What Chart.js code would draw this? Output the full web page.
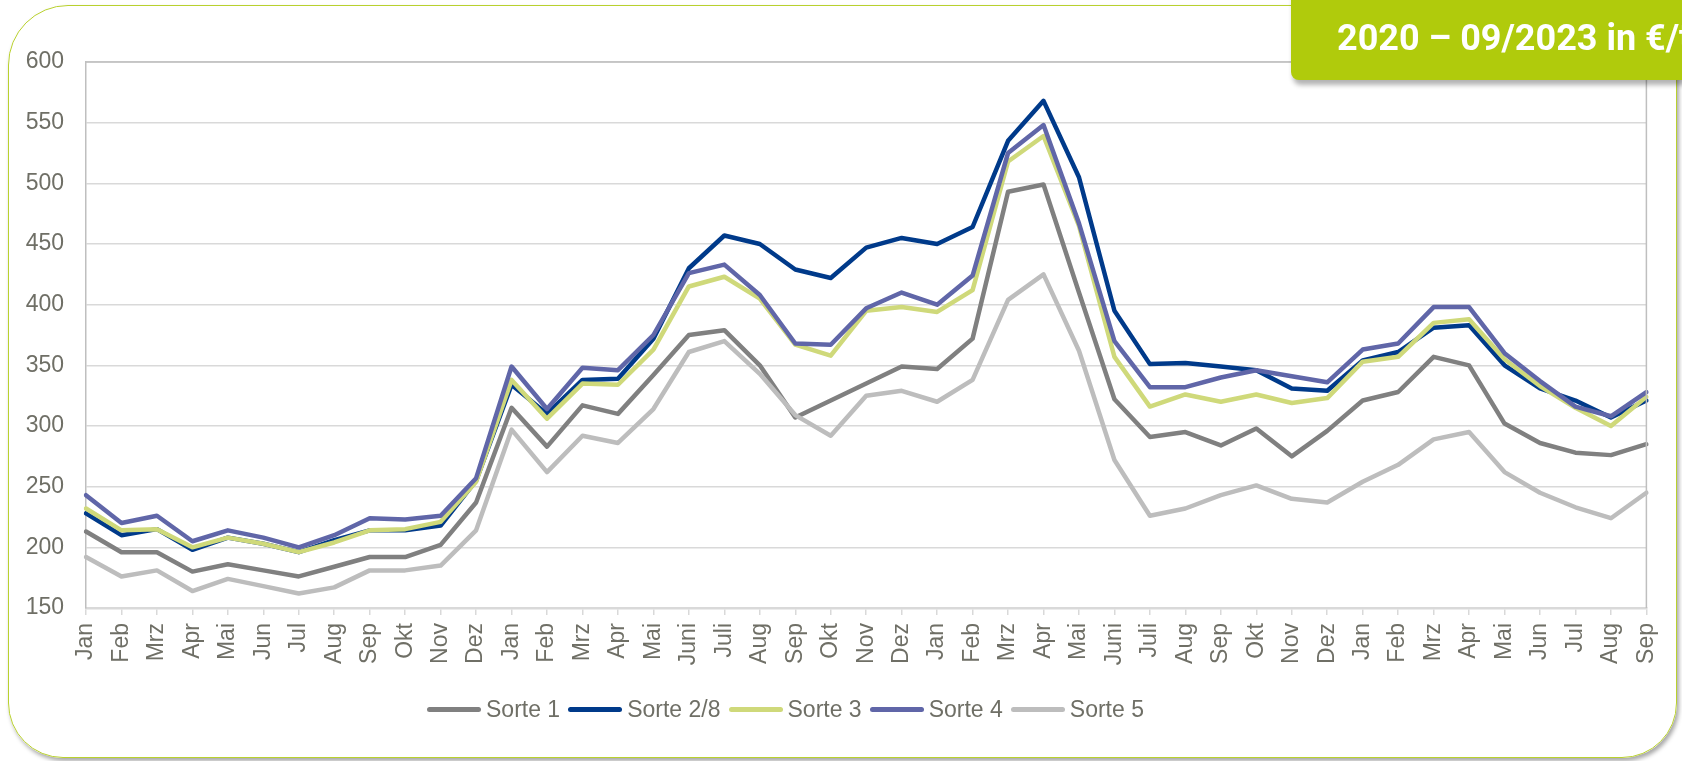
<!DOCTYPE html>
<html lang="de">
<head>
<meta charset="utf-8">
<title>Sorten 2020 – 09/2023</title>
<script src="https://cdn.jsdelivr.net/npm/chart.js@4.4.1/dist/chart.umd.min.js"></script>
<style>
  html, body { margin: 0; padding: 0; background: #fff; }
  body { width: 1682px; height: 761px; position: relative; overflow: hidden; font-family: "Liberation Sans", Arial, sans-serif; }
  #rahmen {
    position: absolute; left: 8px; top: 5px; width: 1669px; height: 753px;
    box-sizing: border-box; border: 1.5px solid #B9D12E;
    border-radius: 60px 60px 55px 55px;
    box-shadow: 2px 3px 4px rgba(0,0,0,0.35);
  }
  #grafik { position: absolute; left: 0; top: 0; }
  #titel {
    position: absolute; left: 1291px; top: -10px; width: 420px; height: 90px;
    background: #B0CB0C; border-radius: 0 0 0 8px;
    box-shadow: 2px 5px 5px rgba(0,0,0,0.3);
  }
  #titel span {
    position: absolute; left: 46px; top: 30px; white-space: nowrap;
    font-family: Roboto, "Liberation Sans", sans-serif; font-weight: bold;
    font-size: 36px; line-height: 36px; color: #fff;
  }
  #legende {
    position: absolute; left: 427px; top: 696px; display: flex; align-items: center;
    font-size: 23px; color: #6F6F66; white-space: nowrap;
  }
  #legende .strich { width: 54px; height: 5px; border-radius: 3px; margin-right: 5px; }
  #legende .text { margin-right: 8px; }
</style>
</head>
<body>
<div id="rahmen"></div>
<canvas id="grafik" width="1682" height="761"></canvas>
<div id="legende"></div>
<div id="titel"><span>2020 – 09/2023 in €/t</span></div>

<script>
// Monate 01/2020 bis 09/2023
const monate = [
  'Jan', 'Feb', 'Mrz', 'Apr', 'Mai', 'Jun', 'Jul', 'Aug', 'Sep', 'Okt', 'Nov', 'Dez',
  'Jan', 'Feb', 'Mrz', 'Apr', 'Mai', 'Juni', 'Juli', 'Aug', 'Sep', 'Okt', 'Nov', 'Dez',
  'Jan', 'Feb', 'Mrz', 'Apr', 'Mai', 'Juni', 'Juli', 'Aug', 'Sep', 'Okt', 'Nov', 'Dez',
  'Jan', 'Feb', 'Mrz', 'Apr', 'Mai', 'Jun', 'Jul', 'Aug', 'Sep'
];

const sorte1 = [213, 196, 196, 180, 186, 181, 176, 184, 192, 192, 202, 237,
  315, 283, 317, 310, 342, 375, 379, 350, 307, 321, 335, 349,
  347, 372, 493, 499, 410, 322, 291, 295, 284, 298, 275, 296,
  321, 328, 357, 350, 302, 286, 278, 276, 285];

const sorte28 = [228, 210, 215, 198, 208, 203, 196, 206, 214, 214, 218, 255,
  334, 310, 338, 339, 372, 430, 457, 450, 429, 422, 447, 455,
  450, 464, 535, 568, 505, 395, 351, 352, 349, 346, 331, 329,
  354, 361, 381, 383, 350, 331, 321, 307, 321];

const sorte3 = [232, 214, 215, 200, 208, 203, 196, 204, 214, 215, 221, 254,
  338, 306, 335, 334, 363, 415, 423, 405, 367, 358, 395, 398,
  394, 412, 518, 539, 465, 357, 316, 326, 320, 326, 319, 323,
  353, 357, 385, 388, 355, 333, 315, 300, 324];

const sorte4 = [243, 220, 226, 205, 214, 208, 200, 210, 224, 223, 226, 257,
  349, 314, 348, 346, 375, 426, 433, 408, 368, 367, 397, 410,
  400, 424, 525, 548, 467, 370, 332, 332, 340, 346, 341, 336,
  363, 368, 398, 398, 360, 337, 316, 308, 328];

const sorte5 = [192, 176, 181, 164, 174, 168, 162, 167, 181, 181, 185, 214,
  297, 262, 292, 286, 314, 361, 370, 343, 309, 292, 325, 329,
  320, 338, 404, 425, 362, 272, 226, 232, 243, 251, 240, 237,
  254, 268, 289, 295, 262, 245, 233, 224, 245];

const yTicks = [150, 200, 250, 300, 350, 400, 450, 500, 550, 600];

const serien = [
  { name: 'Sorte 1', werte: sorte1, farbe: '#808080' },
  { name: 'Sorte 2/8', werte: sorte28, farbe: '#003A8A' },
  { name: 'Sorte 3', werte: sorte3, farbe: '#CFD97A' },
  { name: 'Sorte 4', werte: sorte4, farbe: '#6066A8' },
  { name: 'Sorte 5', werte: sorte5, farbe: '#BDBDBD' }
];

const textFarbe = '#6F6F66';
const schrift = { family: '"Liberation Sans", Arial, sans-serif', size: 23 };

// Rahmen oben und rechts um die Zeichenfläche
const plotRahmen = {
  id: 'plotRahmen',
  afterDraw(chart) {
    const { ctx, chartArea: a } = chart;
    ctx.save();
    ctx.strokeStyle = '#BFBFBF';
    ctx.lineWidth = 1.5;
    ctx.beginPath();
    ctx.moveTo(a.left, a.top);
    ctx.lineTo(a.right, a.top);
    ctx.lineTo(a.right, a.bottom);
    ctx.stroke();
    ctx.restore();
  }
};

new Chart(document.getElementById('grafik').getContext('2d'), {
  type: 'line',
  data: {
    labels: monate,
    datasets: serien.map((s, i) => ({
      label: s.name,
      data: s.werte,
      borderColor: s.farbe,
      backgroundColor: s.farbe,
      order: serien.length - i // spätere Serie liegt oben
    }))
  },
  options: {
    responsive: false,
    animation: false,
    layout: { padding: { top: 62, right: 33, left: 0, bottom: 0 } },
    plugins: {
      legend: { display: false },
      tooltip: { enabled: false }
    },
    elements: {
      point: { radius: 0 },
      line: { tension: 0, borderWidth: 4.5, borderJoinStyle: 'round', borderCapStyle: 'round' }
    },
    scales: {
      x: {
        offset: false,
        grid: { drawOnChartArea: false, color: '#D9D9D9', lineWidth: 1.5, tickLength: 7 },
        border: { color: '#D9D9D9', width: 2.5 },
        ticks: { autoSkip: false, minRotation: 90, maxRotation: 90, padding: 8, color: textFarbe, font: schrift },
        afterFit: s => { s.height = 153; }
      },
      y: {
        min: yTicks[0],
        max: yTicks[yTicks.length - 1],
        afterBuildTicks: s => { s.ticks = yTicks.map(v => ({ value: v })); },
        grid: { color: '#D9D9D9', lineWidth: 1.5, drawTicks: false },
        border: { color: '#BFBFBF', width: 1.5 },
        ticks: { padding: 22, color: textFarbe, font: schrift },
        afterFit: s => { s.width = 86; }
      }
    }
  },
  plugins: [plotRahmen]
});

// Legende
const legende = document.getElementById('legende');
serien.forEach(s => {
  const strich = document.createElement('span');
  strich.className = 'strich';
  strich.style.background = s.farbe;
  const text = document.createElement('span');
  text.className = 'text';
  text.textContent = s.name;
  legende.appendChild(strich);
  legende.appendChild(text);
});
</script>
</body>
</html>
